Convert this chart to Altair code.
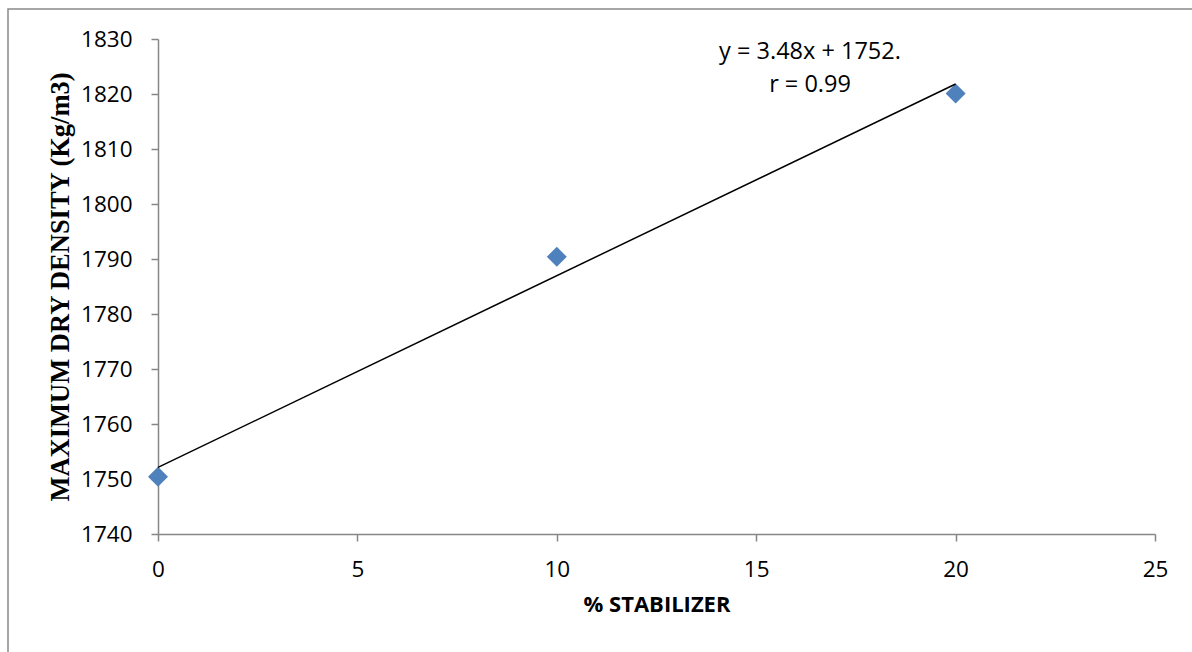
import altair as alt
import pandas as pd

# Data
stabilizer = [0, 10, 20]
max_dry_density = [1750.4, 1790.4, 1820.1]
x_ticks = [0, 5, 10, 15, 20, 25]
y_ticks = [1740, 1750, 1760, 1770, 1780, 1790, 1800, 1810, 1820, 1830]
equation_lines = ["y = 3.48x + 1752.", "r = 0.99"]

df = pd.DataFrame({"x": stabilizer, "y": max_dry_density})

AXIS_GRAY = "#868686"
TICK_FONT = "Open Sans"

x_enc = alt.X(
    "x:Q",
    scale=alt.Scale(domain=[0, 25], nice=False),
    axis=alt.Axis(
        values=x_ticks,
        format="d",
        labelFlush=False,
        title="% STABILIZER",
        titleFont=TICK_FONT,
        titleFontSize=22,
        titleFontWeight="bold",
        titleColor="black",
        titlePadding=14,
        labelFont=TICK_FONT,
        labelFontSize=22.5,
        labelColor="black",
        labelPadding=17,
        tickSize=7,
        tickColor=AXIS_GRAY,
        tickWidth=1.5,
        domainColor=AXIS_GRAY,
        domainWidth=1.5,
        grid=False,
    ),
)
y_enc = alt.Y(
    "y:Q",
    scale=alt.Scale(domain=[1740, 1830], nice=False, zero=False),
    axis=alt.Axis(
        values=y_ticks,
        format="d",
        labelFlush=False,
        title="MAXIMUM DRY DENSITY (Kg/m3)",
        titleFont="Liberation Serif",
        titleFontSize=26.5,
        titleFontWeight="bold",
        titleColor="black",
        titlePadding=6,
        labelFont=TICK_FONT,
        labelFontSize=22.5,
        labelColor="black",
        labelPadding=19,
        tickSize=7,
        tickColor=AXIS_GRAY,
        tickWidth=1.5,
        domainColor=AXIS_GRAY,
        domainWidth=1.5,
        grid=False,
    ),
)

points = alt.Chart(df).mark_point(
    shape="diamond", filled=True, size=400, color="#4F81BD", opacity=1
).encode(x=x_enc, y=y_enc)

trend = (
    alt.Chart(df)
    .transform_regression("x", "y")
    .mark_line(color="black", strokeWidth=1.5)
    .encode(x="x:Q", y="y:Q")
)

label = alt.Chart(pd.DataFrame({"a": [0]})).mark_text(
    text=equation_lines,
    font=TICK_FONT,
    fontSize=23.5,
    align="center",
    baseline="alphabetic",
    lineHeight=33,
    color="black",
).encode(x=alt.value(652), y=alt.value(20))

border = alt.Chart(pd.DataFrame({"a": [0]})).mark_rect(
    filled=False, stroke="#898989", strokeWidth=1.5
).encode(
    x=alt.value(-150), x2=alt.value(1100), y=alt.value(-30), y2=alt.value(700)
)

chart = (
    alt.layer(border, points, trend, label)
    .properties(
        width=997,
        height=495,
        autosize=alt.AutoSizeParams(type="none"),
        padding={"left": 158, "top": 39, "right": 37, "bottom": 118},
        background="white",
    )
    .configure_view(stroke=None)
)

chart.save("out.html", embed_options={"renderer": "svg", "actions": False})
